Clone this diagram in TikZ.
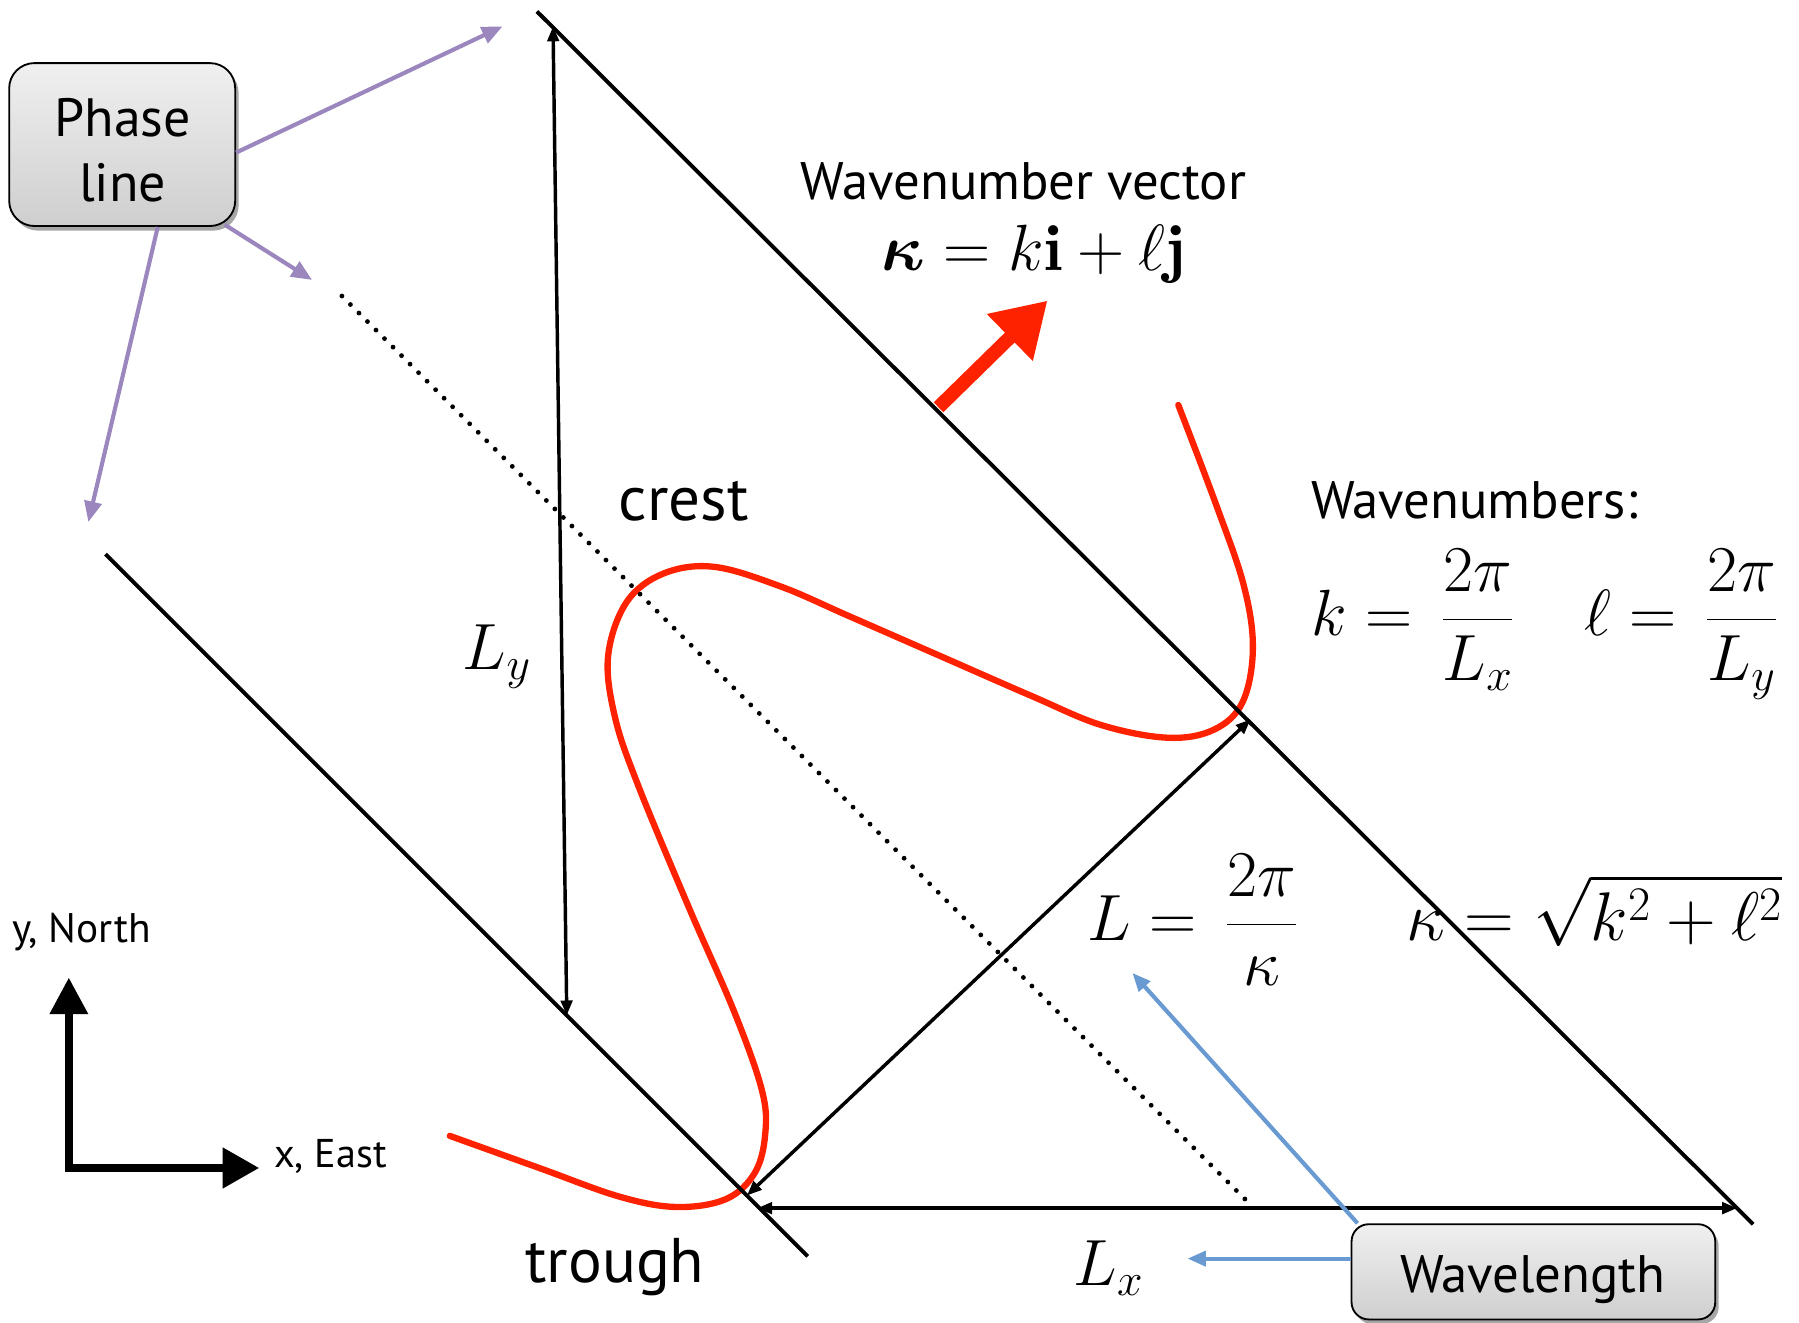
\RequirePackage{fix-cm}
\documentclass[tikz,border=0pt]{standalone}
\usepackage{amsmath}
\usepackage{fontspec}
\newfontfamily\mysans{PT Sans}
\usetikzlibrary{arrows.meta,shadows}
\definecolor{wred}{HTML}{FF2200}
\definecolor{wpurple}{HTML}{9B87BE}
\definecolor{wblue}{HTML}{699BD2}
\tikzset{
  phaseln/.style={line width=3.4pt, black},
  dotln/.style={line width=4.2pt, line cap=round, dash pattern=on 0pt off 10.5pt},
  dimarrow/.style={line width=3pt, {Triangle[length=13pt,width=10pt]}-{Triangle[length=13pt,width=10pt]}},
  callout/.style={draw=black, line width=1.6pt, top color=gray!12, bottom color=gray!38,
     drop shadow={shadow xshift=3pt, shadow yshift=-4pt, opacity=0.35, fill=black}},
  purplearrow/.style={wpurple, line width=3.6pt, -{Triangle[length=18pt,width=15pt]}},
  bluearrow/.style={wblue, line width=3.6pt, -{Triangle[length=16pt,width=13pt]}},
  sanslbl/.style={font=\mysans\fontsize{46}{55}\selectfont, inner sep=0pt},
  mathlbl/.style={font=\fontsize{57}{66}\selectfont, inner sep=0pt},
}
\begin{document}
\begin{tikzpicture}[x=1pt,y=-1pt]
\useasboundingbox (0,0) rectangle (1568,1153);

% coordinates of the phase lines
\coordinate (U1) at (468,10);  \coordinate (U2) at (1528,1067);
\coordinate (D1) at (92,483);  \coordinate (D2) at (704,1095);
\coordinate (M1) at (298,258); \coordinate (M2) at (1090,1050);

% red wave curve
\draw[wred, line width=5.5pt, line cap=round] plot[smooth, tension=0.6] coordinates {
 (1027,353) (1060,440) (1084,510) (1092,565) (1083,612) (1058,636) (1018,643)
 (960,632) (900,607) (820,572) (740,537) (680,511) (622,494) (578,500)
 (546,525) (530,572) (536,625) (556,684) (600,790) (640,882) (664,950)
 (667,988) (658,1022) (633,1045) (590,1052) (540,1043) (470,1018) (392,990)};

% phase lines
\draw[phaseln] (U1) -- (U2);
\draw[phaseln] (D1) -- (D2);
\draw[dotln] (M1) -- (M2);

% dimension arrows
\coordinate (LyTop) at (482,23);  \coordinate (LyBot) at (494,885);
\coordinate (LxL) at (660,1053);  \coordinate (LxR) at (1514,1053);
\coordinate (DgTop) at (1090,627); \coordinate (DgBot) at (651,1042);
\draw[dimarrow] (LyBot) -- (LyTop);
\draw[dimarrow] (LxL) -- (LxR);
\draw[dimarrow] (DgBot) -- (DgTop);

% wavenumber vector arrow
\coordinate (kA) at (818,355); \coordinate (kB) at (913,262);
\draw[wred, line width=12pt, -{Triangle[length=46pt,width=54pt]}] (kA) -- (kB);

% axes
\coordinate (O) at (60,1018);
\coordinate (Ny) at (60,852);
\coordinate (Ex) at (226,1018);
\draw[line width=7pt, -{Triangle[length=32pt,width=32pt]}] ([yshift=-3.5pt]O) -- (Ny);
\draw[line width=7pt, -{Triangle[length=32pt,width=34pt]}] ([xshift=-3.5pt]O) -- (Ex);
\node[font=\mysans\fontsize{36}{42}\selectfont, inner sep=0pt] (ylab) at (71,812) {y, North};
\node[font=\mysans\fontsize{35}{42}\selectfont, inner sep=0pt] (xlab) at (288,1008) {x, East};

% callout boxes
\node[callout, rounded corners=22pt, minimum width=197pt, minimum height=142pt] (phase) at (106.5,126) {};
\node[align=center, inner sep=0pt, font=\mysans\fontsize{47}{56}\selectfont] (phasetxt) at (107,131) {Phase\\line};
\node[callout, rounded corners=15pt, minimum width=317pt, minimum height=83pt] (wave) at (1336.5,1108.5) {};
\node[inner sep=0pt, font=\mysans\fontsize{46}{55}\selectfont] (wavetxt) at (1336,1115) {Wavelength};

% callout arrows
\coordinate (t1) at (438,23); \coordinate (t2) at (272,244); \coordinate (t3) at (77,455);
\draw[purplearrow] ([yshift=-7pt]phase.east) -- (t1);
\draw[purplearrow] ([xshift=-10pt,yshift=2pt]phase.south east) -- (t2);
\draw[purplearrow] ([xshift=31pt]phase.south) -- (t3);
\coordinate (t4) at (987,848); \coordinate (t5) at (1035,1097);
\draw[bluearrow] ([xshift=6pt]wave.north west) -- (t4);
\draw[bluearrow] (wave.west |- t5) -- (t5);

% labels
\node[sanslbl] (wvtitle) at (892,158) {Wavenumber vector};
\node[mathlbl] (wvec) at (901,222) {$\boldsymbol{\kappa} = k\mathbf{i} + \ell\mathbf{j}$};
\node[sanslbl, font=\mysans\fontsize{55}{62}\selectfont] (crest) at (596,437) {crest};
\node[sanslbl, font=\mysans\fontsize{55}{62}\selectfont] (trough) at (536,1104) {trough};
\node[sanslbl] (wnums) at (1285,436) {Wavenumbers:};
\node[mathlbl, anchor=base west] (keq) at (1143,554) {$\displaystyle k = \,\frac{2\pi}{L_x}$};
\node[mathlbl, anchor=base west] (leq) at (1381,554) {$\displaystyle \ell = \,\frac{2\pi}{L_y}$};
\node[mathlbl, anchor=base west] (Leq) at (948,820) {$\displaystyle L = \,\frac{2\pi}{\kappa}$};
\node[mathlbl, font=\fontsize{60}{66}\selectfont, anchor=base west] (kapeq) at (1226,820) {$\displaystyle \kappa = \sqrt{k^2 + \ell^2}$};
\node[mathlbl] (Ly) at (433,572) {$L_y$};
\node[mathlbl] (Lx) at (966,1105) {$L_x$};
\end{tikzpicture}
\end{document}
